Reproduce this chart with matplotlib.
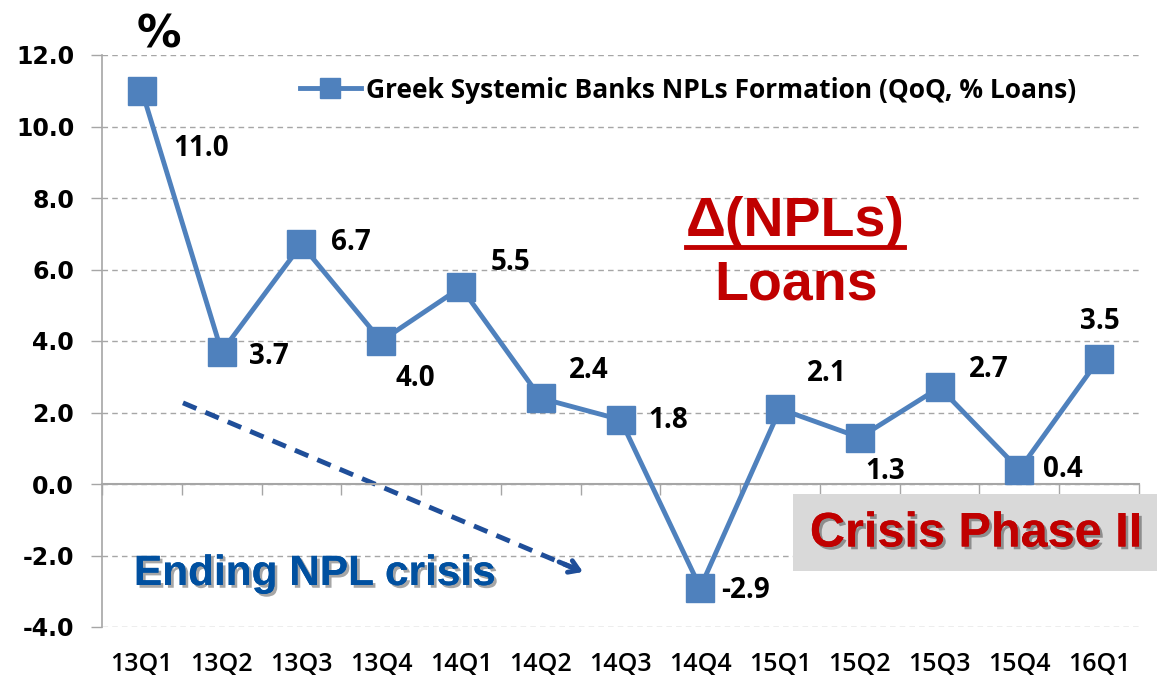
"""
Greek systemic banks NPL formation, QoQ % of loans (13Q1-16Q1).
Line chart with value labels and callouts; saves out.png.
"""
import numpy as np
import matplotlib
matplotlib.use("Agg")
import matplotlib.pyplot as plt
from matplotlib import patheffects as pe
from matplotlib.lines import Line2D
from matplotlib.patches import Rectangle

quarters = ['13Q1', '13Q2', '13Q3', '13Q4', '14Q1', '14Q2', '14Q3',
            '14Q4', '15Q1', '15Q2', '15Q3', '15Q4', '16Q1']
npl_formation = [11.0, 3.7, 6.7, 4.0, 5.5, 2.4, 1.8, -2.9, 2.1, 1.3, 2.7, 0.4, 3.5]
y_ticks = [-4.0, -2.0, 0.0, 2.0, 4.0, 6.0, 8.0, 10.0, 12.0]
series_name = 'Greek Systemic Banks NPLs Formation (QoQ, % Loans)'

# label offsets in pixels (dx, dy up) relative to each point
label_offsets = [(59, -58), (47, -5), (49, 2), (34, -37), (50, 25), (48, 28),
                 (48, -1), (45, -3), (47, 35), (25, -34), (49, 18), (43, 0),
                 (1, 37)]

W, H = 1157, 682
LINE_BLUE = '#4F81BD'
GRID_GREY = '#A6A6A6'
RED = '#C00000'
DARK_BLUE = '#0050A0'


def px(x, y):
    """pixel position (from top-left) to figure fraction"""
    return x / W, 1 - y / H


fig = plt.figure(figsize=(W / 100, H / 100), dpi=100)
ax = fig.add_axes([102 / W, 55 / H, (1139 - 102) / W, (627 - 55) / H])

x = np.arange(len(quarters))
ax.plot(x, npl_formation, color=LINE_BLUE, lw=3.5, marker='s', ms=20,
        mec=LINE_BLUE, mfc=LINE_BLUE, label=series_name, zorder=3)

ax.set_xlim(-0.5, len(quarters) - 0.5)
ax.set_ylim(y_ticks[0], y_ticks[-1])
ax.set_yticks(y_ticks)
ax.set_yticklabels([f'{v:.1f}' for v in y_ticks])
ax.tick_params(axis='y', length=8, width=1, color=GRID_GREY, pad=12,
               labelsize=17)
for lab in ax.get_yticklabels():
    lab.set_fontweight('bold')
    lab.set_family('DejaVu Sans')
ax.grid(axis='y', color=GRID_GREY, lw=1, linestyle=(0, (4, 3)))
ax.set_axisbelow(True)

for side in ['top', 'right']:
    ax.spines[side].set_visible(False)
ax.spines['left'].set_color(GRID_GREY)
ax.spines['left'].set_linewidth(1.2)
ax.spines['bottom'].set_position(('data', 0))
ax.spines['bottom'].set_color(GRID_GREY)
ax.spines['bottom'].set_linewidth(1.5)

# category boundary ticks on the zero line
ax.set_xticks(np.arange(-0.5, len(quarters)))
ax.set_xticklabels([])
ax.tick_params(axis='x', length=8, width=1, color=GRID_GREY, direction='out')

# category labels at the bottom of the plot
sec = ax.secondary_xaxis('bottom')
sec.set_xticks(x)
sec.set_xticklabels(quarters, family='Open Sans', fontsize=18,
                    fontweight='semibold')
sec.tick_params(length=0, pad=18)
sec.spines['bottom'].set_visible(False)

# value labels
for xi, v, (dx, dy) in zip(x, npl_formation, label_offsets):
    ax.annotate(f'{v:.1f}', (xi, v), xytext=(dx * 0.72, dy * 0.72),
                textcoords='offset points', ha='center', va='center',
                fontsize=20, fontweight='bold', family='Open Sans',
                color='black', zorder=4)

ax.legend(loc='center left', bbox_to_anchor=px(300, 90),
          bbox_transform=fig.transFigure, frameon=False, borderpad=0,
          borderaxespad=0, handlelength=2.3, handletextpad=0.2,
          markerscale=0.7, prop={'family': 'Open Sans', 'weight': 'bold',
                                 'size': 19})

# "%" unit marker
fig.text(*px(159, 35), '%', ha='center', va='center', fontsize=32,
         fontweight='bold', color='black')

# Delta(NPLs) / Loans
t_num = fig.text(*px(795, 222), 'Δ(NPLs)', ha='center', va='center',
                 fontsize=40, fontweight='bold', color=RED,
                 family='Liberation Sans')
fig.text(*px(796, 285), 'Loans', ha='center', va='center', fontsize=40,
         fontweight='bold', color=RED, family='Liberation Sans')

# Crisis Phase II box
fig.add_artist(Rectangle(px(793, 571), 364 / W, 77 / H,
                         transform=fig.transFigure, facecolor='#D9D9D9',
                         edgecolor='none', zorder=5))
shadow = [pe.withSimplePatchShadow(offset=(2, -2), shadow_rgbFace='black',
                                   alpha=0.35), pe.Normal()]
fig.text(*px(976, 534), 'Crisis Phase II', ha='center', va='center',
         fontsize=35, fontweight='bold', color=RED, family='Liberation Sans',
         path_effects=shadow, zorder=6)

# Ending NPL crisis with dashed arrow
fig.text(*px(315, 574), 'Ending NPL crisis', ha='center', va='center',
         fontsize=30.5, fontweight='bold', color=DARK_BLUE,
         family='Liberation Sans', path_effects=shadow, zorder=6)

arrow_start = (0.515, 2.27)
arrow_end = (5.53, -2.46)
ax.plot([arrow_start[0], arrow_end[0] - 0.1], [arrow_start[1], arrow_end[1] + 0.09],
        color='#1F4E99', lw=3.5, linestyle=(0, (3, 2)), zorder=2)
ax.annotate('', xy=arrow_end, xytext=(arrow_end[0] - 0.3, arrow_end[1] + 0.28),
            arrowprops=dict(arrowstyle='->,head_length=0.7,head_width=0.45',
                            color='#1F4E99', lw=3.5, shrinkA=0, shrinkB=0),
            zorder=2)

# underline below Delta(NPLs)
fig.canvas.draw()
bb = t_num.get_window_extent()
fig.add_artist(Line2D([bb.x0 / W, bb.x1 / W], [(bb.y0 + 1) / H] * 2,
                      transform=fig.transFigure, color=RED, lw=3.5))

fig.savefig('out.png', dpi=100)
